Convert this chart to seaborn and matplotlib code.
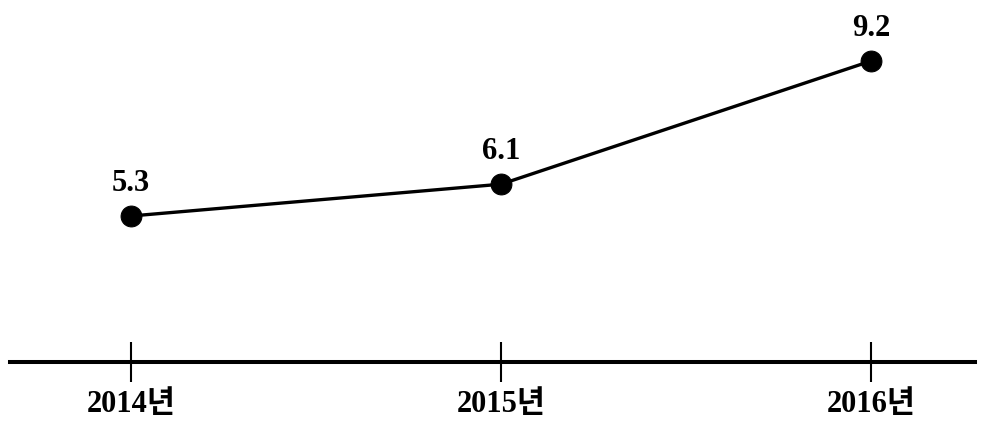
import matplotlib
matplotlib.use("Agg")
import matplotlib.pyplot as plt
import seaborn as sns
import pandas as pd

years = ["2014년", "2015년", "2016년"]
values = [5.3, 6.1, 9.2]

sns.set_theme(style="white")
plt.rcParams['font.family'] = ['Liberation Serif', 'Noto Sans CJK KR']

df = pd.DataFrame({"x": range(len(years)), "value": values})

fig = plt.figure(figsize=(9.84, 4.23), dpi=100)
ax = fig.add_axes([10/984, (423-362)/423, 965/984, 362/423])

sns.lineplot(data=df, x="x", y="value", ax=ax, color="black", linewidth=2.4,
             marker="o", markersize=15, markeredgecolor="black",
             markerfacecolor="black")

for xi, v in zip(df["x"], df["value"]):
    ax.annotate(f"{v:.1f}", (xi, v), xytext=(0, 18), textcoords="offset points",
                ha="center", va="baseline", fontsize=22, fontweight="bold",
                color="black")

ax.set_xlim(-0.327, 2.281)
ax.set_ylim(1.626, 10.735)
ax.set_xticks(list(df["x"]))
ax.set_xticklabels(years, fontsize=22, fontweight="bold", color="black")
ax.set_yticks([])
ax.set_xlabel("")
ax.set_ylabel("")
for s in ["top", "right", "left"]:
    ax.spines[s].set_visible(False)
ax.spines["bottom"].set_linewidth(2.9)
ax.spines["bottom"].set_color("black")
ax.tick_params(axis="x", direction="inout", length=29, width=1.5,
               colors="black", pad=6, bottom=True)
ax.patch.set_alpha(0)

fig.savefig("out.png", dpi=100)
